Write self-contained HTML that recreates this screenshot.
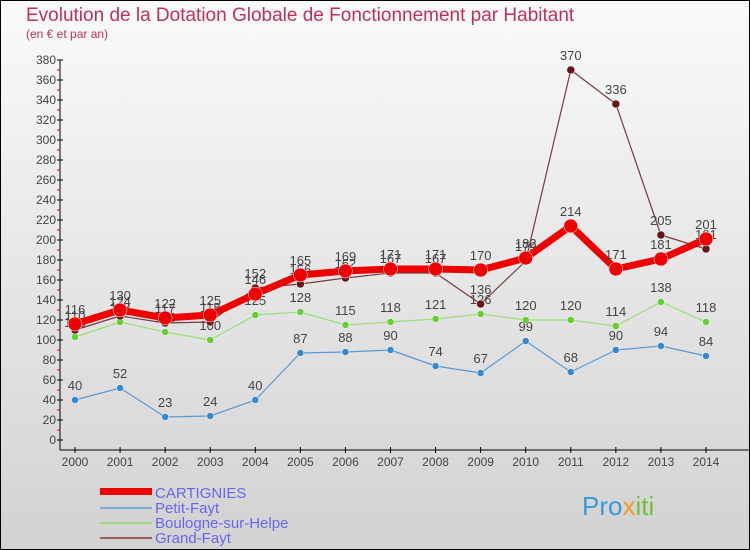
<!DOCTYPE html>
<html><head><meta charset="utf-8"><style>
body{margin:0;}
svg{display:block;font-family:"Liberation Sans","DejaVu Sans",sans-serif;}
</style></head><body>
<svg id="c" width="750" height="550" viewBox="0 0 750 550" xmlns="http://www.w3.org/2000/svg">
<defs>
<linearGradient id="bg" x1="0" y1="0" x2="0" y2="1">
<stop offset="0" stop-color="#fafafa"/><stop offset="1" stop-color="#d2d2d2"/>
</linearGradient>
</defs>
<rect x="0.5" y="0.5" width="749" height="549" fill="url(#bg)" stroke="#000"/>
<text x="26" y="21" font-size="19" fill="#c0305a">Evolution de la Dotation Globale de Fonctionnement par Habitant</text>
<text x="26" y="38" font-size="12" fill="#c0305a">(en € et par an)</text>
<g id="axes"></g>
<g id="series"></g>
<g id="legend">
<rect x="100" y="488" width="52" height="7" fill="#e00"/>
<text x="155" y="498" font-size="15" fill="#6666ee">CARTIGNIES</text>
<rect x="100" y="507" width="52" height="2" fill="#7aaed0"/>
<text x="155" y="513" font-size="15" fill="#6666ee">Petit-Fayt</text>
<rect x="100" y="522" width="52" height="2" fill="#9ed880"/>
<text x="155" y="528" font-size="15" fill="#6666ee">Boulogne-sur-Helpe</text>
<rect x="100" y="537" width="52" height="2" fill="#9a6060"/>
<text x="155" y="543" font-size="15" fill="#6666ee">Grand-Fayt</text>
</g>
<text x="582" y="515" font-size="26" fill="#3a9ad8">Pro<tspan fill="#f0a020">x</tspan><tspan fill="#70c040">iti</tspan></text>
</svg>
<script>
const years=[2000,2001,2002,2003,2004,2005,2006,2007,2008,2009,2010,2011,2012,2013,2014];
const yTicks=[0,20,40,60,80,100,120,140,160,180,200,220,240,260,280,300,320,340,360,380];
const cartignies=[116,130,122,125,146,165,169,171,171,170,182,214,171,181,201];
const petitFayt=[40,52,23,24,40,87,88,90,74,67,99,68,90,94,84];
const boulogne=[103,118,108,100,125,128,115,118,121,126,120,120,114,138,118];
const grandFayt=[110,124,117,118,152,156,162,167,167,136,179,370,336,205,191];
const NS='http://www.w3.org/2000/svg';
const xS=i=>75+i*(706-75)/(years.length-1);
const yS=v=>440-v*(380/380);
function mk(tag,attrs,parent){const e=document.createElementNS(NS,tag);for(const k in attrs)e.setAttribute(k,attrs[k]);parent.appendChild(e);return e;}
const ax=document.getElementById('axes');
const yl=mk('line',{x1:60,y1:60,x2:60,y2:450,stroke:'#000'},ax);


const xl=mk('line',{x1:60,y1:450,x2:750,y2:450,stroke:'#000'},ax);


for(let v=10;v<380;v+=20){mk('line',{x1:57,y1:yS(v),x2:60,y2:yS(v),stroke:'#e00'},ax);}
yTicks.forEach(v=>{
  mk('line',{x1:57,y1:yS(v),x2:63,y2:yS(v),stroke:'#000'},ax);
  const t=mk('text',{x:56,y:yS(v)+4,'font-size':12,'text-anchor':'end',fill:'#444'},ax);
  t.textContent=v;
  
  
});
years.forEach((y,i)=>{
  mk('line',{x1:xS(i),y1:447,x2:xS(i),y2:453,stroke:'#000'},ax);
  const t=mk('text',{x:xS(i),y:466,'font-size':12,'text-anchor':'middle',fill:'#444'},ax);
  t.textContent=y;
  
  
});
const sg=document.getElementById('series');
function draw(data,name,color,w,r,mcol,labels){
  const g=mk('g',{},sg);
  
  
  const pts=data.map((v,i)=>xS(i)+','+yS(v)).join(' ');
  mk('polyline',{points:pts,fill:'none',stroke:color,'stroke-width':w,'stroke-linejoin':'round'},g);
  data.forEach((v,i)=>{
    const c=mk('circle',{cx:xS(i),cy:yS(v),r:r,fill:mcol,stroke:'#fff','stroke-width':0.5},g);
    
    
    if(labels){
      const t=mk('text',{x:xS(i),y:yS(v)-10,'font-size':13,'text-anchor':'middle',fill:'#444'},g);
      t.textContent=v;
      
      
    }
  });
}
draw(petitFayt,'petit-fayt','#5a9ad0',1.2,3.5,'#3a88cc',true);
draw(boulogne,'boulogne','#99dd77',1.2,3.5,'#66cc33',true);
draw(grandFayt,'grand-fayt','#7a3a3a',1.2,4,'#661818',true);
draw(cartignies,'cartignies','#ee0000',7,7,'#ee0000',true);
</script>
</body></html>
